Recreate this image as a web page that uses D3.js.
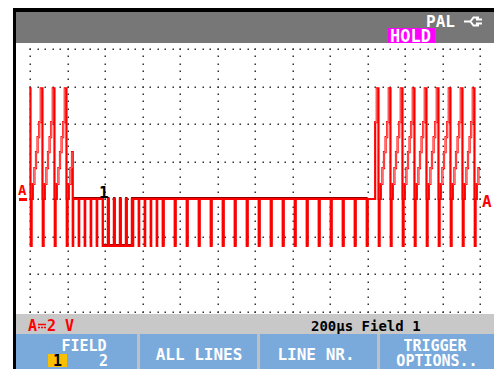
<!DOCTYPE html>
<html>
<head>
<meta charset="utf-8">
<script src="https://cdn.jsdelivr.net/npm/d3@7"></script>
<style>
body { margin: 0; background: #fff; }
text { font-family: "DejaVu Sans Mono", monospace; font-weight: bold; }
</style>
</head>
<body>
<script>
// scope settings: 200 us/div, 2 V/div
var timeDomain = [0, 2400];       // us across the screen
var voltDomain = [-6, 8];         // volts, bottom to top
var timeTicks = [0, 200, 400, 600, 800, 1000, 1200, 1400, 1600, 1800, 2000, 2200, 2400];
var voltTicks = [-6, -4, -2, 0, 2, 4, 6, 8];

// sync edges (us) and what kind of line follows
// V = video line, E = equalising pulse, B = broad pulse, K = blank line, H = half video line
var syncTimes = [4, 68, 132, 196, 228, 260, 292, 324, 356, 388, 420, 452, 484, 516,
                 548, 580, 612, 644, 676, 708, 772, 836, 900, 964, 1028, 1092, 1156,
                 1220, 1284, 1348, 1412, 1476, 1540, 1604, 1668, 1732, 1796, 1860,
                 1924, 1988, 2052, 2116, 2180, 2244, 2308, 2372];
var syncKinds = ["V","V","V","V","E","E","E","E","E","B","B","B","B","B",
                 "E","E","E","E","E","K","K","K","K","K","K","K","K",
                 "K","K","K","K","K","K","K","K","K","H","V",
                 "V","V","V","V","V","V","V","V"];
var pulseWidth = {V: 4.7, H: 4.7, K: 4.7, E: 2.35, B: 27.3};

// staircase test signal inside a video line (us from sync edge, volts)
var stairStarts = [11, 19.5, 28, 36.5, 45, 53.5];
var stairLevels = [0.8, 1.65, 2.5, 3.3, 4.1, 5.9];
var stairEnd = 62.5;
var halfLineFrom = 44;
var syncLevel = -2.5;
var traceFrom = [-4, 5.9];
var traceTo = 2400;
var blankSpan = [226, 1838];   // field blanking, drawn with a darker edge

var width = 494, height = 369;

var svg = d3.select("body").append("svg")
    .attr("width", width)
    .attr("height", height)
    .style("display", "block");

// frame
svg.append("rect").attr("x", 13).attr("y", 8).attr("width", width - 13).attr("height", height - 8).attr("fill", "#000");
svg.append("rect").attr("x", 16).attr("y", 12).attr("width", width - 16).attr("height", 31).attr("fill", "#777");
svg.append("rect").attr("x", 16).attr("y", 43).attr("width", width - 16).attr("height", 271).attr("fill", "#fff");
svg.append("rect").attr("x", 16).attr("y", 314).attr("width", width - 16).attr("height", 20).attr("fill", "#c8c8c8");
svg.append("rect").attr("x", 16).attr("y", 334).attr("width", width - 16).attr("height", 35).attr("fill", "#7aaadc");

var x = d3.scaleLinear().domain(timeDomain).range([30, 480]);
var y = d3.scaleLinear().domain(voltDomain).range([311.5, 49]);

// dotted graticule
var dots = [];
timeTicks.forEach(function(t){
  d3.range(voltDomain[0], voltDomain[1] + 0.01, 0.4).forEach(function(v){ dots.push([t, v]); });
});
voltTicks.forEach(function(v){
  d3.range(timeDomain[0], timeDomain[1] + 1, 40).forEach(function(t){ dots.push([t, v]); });
});
svg.append("g").selectAll("rect")
  .data(dots)
  .enter()
  .append("rect")
  .attr("x", function(d){ return Math.round(x(d[0])) - 0.5; })
  .attr("y", function(d){ return Math.round(y(d[1])) - 0.5; })
  .attr("width", 1.5)
  .attr("height", 1.5)
  .attr("fill", "#333");

// build the trace from the sync list
var pts = [traceFrom, [traceFrom[0] + 6.5, 0]];
var stairs = [];
syncTimes.forEach(function(t0, i){
  var kind = syncKinds[i];
  var tNext = i < syncTimes.length - 1 ? syncTimes[i + 1] : traceTo;
  pts.push([t0, syncLevel]);
  pts.push([t0 + pulseWidth[kind], 0]);
  if (kind == "V" || kind == "H") {
    var st = [];
    stairStarts.forEach(function(s, j){
      if (kind == "H" && s < halfLineFrom) return;
      if (t0 + s < tNext) { pts.push([t0 + s, stairLevels[j]]); st.push([t0 + s, stairLevels[j]]); }
    });
    if (t0 + stairEnd < tNext) pts.push([t0 + stairEnd, 0]);
    stairs.push(st);
  }
});
pts.push([traceTo, pts[pts.length - 1][1]]);

var line = d3.line()
  .x(function(d){ return x(d[0]); })
  .y(function(d){ return y(d[1]); })
  .curve(d3.curveStepAfter);

// darker upper edge along the blanking part
svg.append("path")
  .datum(pts.filter(function(d){ return d[0] >= blankSpan[0] && d[0] <= blankSpan[1]; }))
  .attr("d", line)
  .attr("transform", "translate(0,-1.2)")
  .attr("fill", "none")
  .attr("stroke", "#8a0000")
  .attr("stroke-width", 1.6);

svg.append("path")
  .datum(pts)
  .attr("d", line)
  .attr("fill", "none")
  .attr("stroke", "#ff0000")
  .attr("stroke-width", 2.2);

// lighter core on the staircase risers
svg.append("g").selectAll("path")
  .data(stairs)
  .enter()
  .append("path")
  .attr("d", line)
  .attr("fill", "none")
  .attr("stroke", "#ffb0b0")
  .attr("stroke-width", 0.7);

// trigger marker and channel level markers
svg.append("text").attr("x", 99).attr("y", 198).attr("font-size", 16).attr("fill", "#000").text("1");
svg.append("text").attr("x", 18).attr("y", 195).attr("font-size", 14).attr("fill", "#f00").text("A");
svg.append("rect").attr("x", 19).attr("y", 198).attr("width", 8).attr("height", 3).attr("fill", "#f00");
svg.append("text").attr("x", 482).attr("y", 207).attr("font-size", 16).attr("fill", "#f00").text("A");

// top bar
svg.append("text").attr("x", 426).attr("y", 27).attr("font-size", 16).attr("fill", "#fff").text("PAL");
svg.append("path")
  .attr("d", "M464,21.5H470M479,17.5H473.5L470.5,21.5L473.5,25.5H479M476,19.5H482M476,23.5H482")
  .attr("fill", "none").attr("stroke", "#fff").attr("stroke-width", 2);
svg.append("rect").attr("x", 388).attr("y", 28).attr("width", 47).attr("height", 15).attr("fill", "#ff00ff");
svg.append("text").attr("x", 390).attr("y", 42).attr("font-size", 17).attr("fill", "#fff").text("HOLD");

// status line
svg.append("text").attr("x", 28).attr("y", 331).attr("font-size", 15).attr("fill", "#f00").text("A");
svg.append("path").attr("d", "M38,324.5H46M38,327.5H40M41,327.5H43M44,327.5H46")
  .attr("stroke", "#f00").attr("stroke-width", 1.5);
svg.append("text").attr("x", 47).attr("y", 331).attr("font-size", 15).attr("fill", "#f00").text("2 V");
svg.append("text").attr("x", 311).attr("y", 331).attr("font-size", 14).attr("fill", "#000").text("200\u00b5s Field 1");

// soft keys
[137, 257, 377].forEach(function(sx){
  svg.append("rect").attr("x", sx).attr("y", 334).attr("width", 3).attr("height", 35).attr("fill", "#c0c0c0");
});
svg.append("rect").attr("x", 48).attr("y", 354).attr("width", 19).attr("height", 13).attr("fill", "#f8c000");
svg.append("text").attr("x", 53).attr("y", 366).attr("font-size", 15).attr("fill", "#000").text("1");
svg.append("text").attr("x", 99).attr("y", 366).attr("font-size", 15).attr("fill", "#fff").text("2");
var keys = [
  ["FIELD", 84, 351, 15], ["ALL LINES", 199, 360, 16], ["LINE NR.", 316, 360, 16],
  ["TRIGGER", 435, 351, 15], ["OPTIONS..", 437, 366, 15]
];
svg.selectAll(".key")
  .data(keys)
  .enter()
  .append("text")
  .attr("class", "key")
  .attr("x", function(d){ return d[1]; })
  .attr("y", function(d){ return d[2]; })
  .attr("text-anchor", "middle")
  .attr("font-size", function(d){ return d[3]; })
  .attr("fill", "#fff")
  .text(function(d){ return d[0]; });
</script>
</body>
</html>
